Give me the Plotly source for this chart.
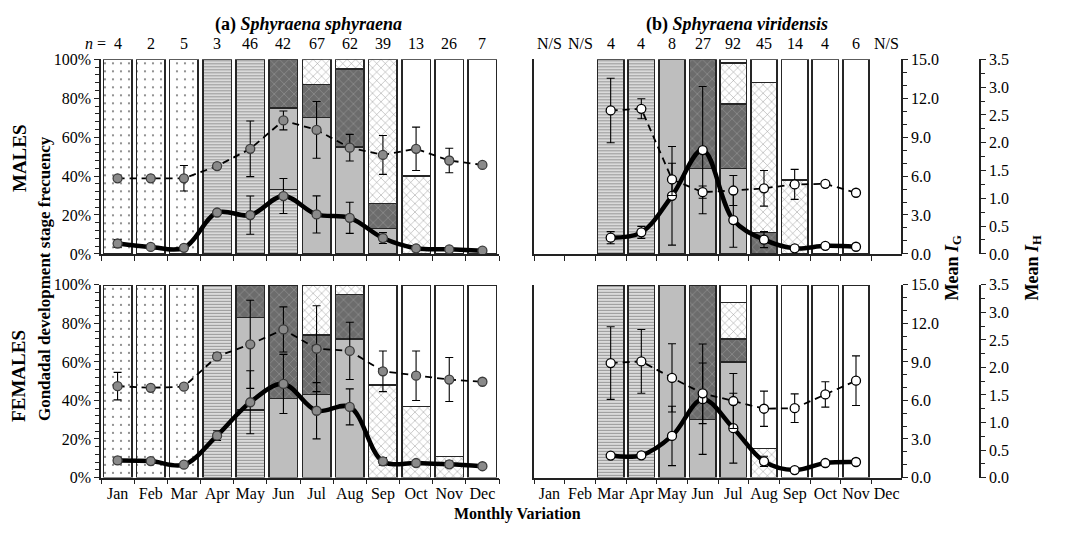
import plotly.graph_objects as go

W, H = 1067, 533
FONT = "Liberation Serif"

months = ["Jan", "Feb", "Mar", "Apr", "May", "Jun", "Jul", "Aug", "Sep", "Oct", "Nov", "Dec"]
n_ss = ["4", "2", "5", "3", "46", "42", "67", "62", "39", "13", "26", "7"]
n_sv = ["N/S", "N/S", "4", "4", "8", "27", "92", "45", "14", "4", "6", "N/S"]

stages = ["Immature", "Developing", "Spawning capable", "Actively spawning", "Regressing", "Regenerating"]

# Gonadal stage frequencies (%), Sphyraena sphyraena
ss_m_immature = [100, 100, 100, 0, 0, 0, 0, 0, 0, 0, 0, 0]
ss_m_developing = [0, 0, 0, 100, 100, 33, 0, 0, 0, 0, 0, 0]
ss_m_capable = [0, 0, 0, 0, 0, 42, 70, 55, 13, 0, 0, 0]
ss_m_active = [0, 0, 0, 0, 0, 25, 17, 40, 13, 0, 0, 0]
ss_m_regressing = [0, 0, 0, 0, 0, 0, 13, 5, 74, 40, 0, 0]
ss_m_regenerating = [0, 0, 0, 0, 0, 0, 0, 0, 0, 60, 100, 100]

ss_f_immature = [100, 100, 100, 0, 0, 0, 0, 0, 0, 0, 0, 0]
ss_f_developing = [0, 0, 0, 100, 35, 0, 0, 0, 0, 0, 0, 0]
ss_f_capable = [0, 0, 0, 0, 48, 41, 43, 72, 0, 0, 0, 0]
ss_f_active = [0, 0, 0, 0, 17, 59, 31, 23, 0, 0, 0, 0]
ss_f_regressing = [0, 0, 0, 0, 0, 0, 26, 5, 48, 37, 11, 0]
ss_f_regenerating = [0, 0, 0, 0, 0, 0, 0, 0, 52, 63, 89, 100]

# Gonadal stage frequencies (%), Sphyraena viridensis
sv_m_immature = [0] * 12
sv_m_developing = [0, 0, 100, 100, 0, 0, 0, 0, 0, 0, 0, 0]
sv_m_capable = [0, 0, 0, 0, 100, 44, 44, 0, 0, 0, 0, 0]
sv_m_active = [0, 0, 0, 0, 0, 56, 33, 11, 0, 0, 0, 0]
sv_m_regressing = [0, 0, 0, 0, 0, 0, 21, 77, 38, 0, 0, 0]
sv_m_regenerating = [0, 0, 0, 0, 0, 0, 2, 12, 62, 100, 100, 0]

sv_f_immature = [0] * 12
sv_f_developing = [0, 0, 100, 100, 0, 0, 0, 0, 0, 0, 0, 0]
sv_f_capable = [0, 0, 0, 0, 100, 30, 60, 0, 0, 0, 0, 0]
sv_f_active = [0, 0, 0, 0, 0, 70, 12, 0, 0, 0, 0, 0]
sv_f_regressing = [0, 0, 0, 0, 0, 0, 19, 15, 0, 0, 0, 0]
sv_f_regenerating = [0, 0, 0, 0, 0, 0, 9, 85, 100, 100, 100, 0]

# Mean gonadosomatic (IG) and hepatosomatic (IH) indices with error
ss_m_ig = [0.80, 0.54, 0.47, 3.19, 2.99, 4.46, 3.04, 2.78, 1.22, 0.43, 0.35, 0.25]
ss_m_ig_err = [0.30, 0, 0, 0, 1.47, 1.35, 1.43, 1.20, 0.42, 0.10, 0.10, 0]
ss_m_ih = [1.36, 1.36, 1.36, 1.58, 1.89, 2.40, 2.23, 1.91, 1.78, 1.89, 1.68, 1.60]
ss_m_ih_err = [0, 0, 0.23, 0, 0.50, 0.17, 0.51, 0.24, 0.35, 0.39, 0.22, 0]

ss_f_ig = [1.33, 1.28, 1.00, 3.26, 5.86, 7.29, 5.20, 5.50, 1.26, 1.13, 1.03, 0.88]
ss_f_ig_err = [0.25, 0, 0, 0.38, 2.45, 2.30, 2.19, 1.40, 0.30, 0.10, 0.25, 0]
ss_f_ih = [1.66, 1.63, 1.65, 2.20, 2.42, 2.69, 2.34, 2.30, 1.93, 1.85, 1.78, 1.74]
ss_f_ih_err = [0.25, 0, 0, 0.06, 0.80, 0.41, 0.78, 0.52, 0.37, 0.45, 0.40, 0]

sv_m_ig = [None, None, 1.25, 1.66, 4.48, 8.00, 2.61, 1.10, 0.43, 0.62, 0.55, None]
sv_m_ig_err = [0, 0, 0.47, 0.46, 3.80, 4.90, 2.10, 0.62, 0, 0, 0, 0]
sv_m_ih = [None, None, 2.58, 2.61, 1.34, 1.11, 1.14, 1.18, 1.25, 1.26, 1.10, None]
sv_m_ih_err = [0, 0, 0.58, 0.18, 0.29, 0.11, 0.27, 0.32, 0.27, 0, 0, 0]

sv_f_ig = [None, None, 1.71, 1.73, 3.24, 6.10, 3.84, 1.26, 0.58, 1.13, 1.21, None]
sv_f_ig_err = [0, 0, 0, 0.20, 2.31, 4.30, 2.72, 0.40, 0, 0, 0.20, 0]
sv_f_ih = [None, None, 2.08, 2.11, 1.81, 1.53, 1.39, 1.25, 1.26, 1.51, 1.76, None]
sv_f_ih_err = [0, 0, 0.66, 0.58, 0.62, 0.55, 0.50, 0.32, 0.26, 0.23, 0.45, 0]

stage_style = {
    "Immature": dict(color="white", pattern=dict(shape=".", fgcolor="#7a7a7a", bgcolor="white", size=8, solidity=0.06)),
    "Developing": dict(color="#e4e4e4", pattern=dict(shape="-", fgcolor="#999999", bgcolor="#f0f0f0", size=3, solidity=0.5)),
    "Spawning capable": dict(color="#bebebe"),
    "Actively spawning": dict(color="#6c6c6c", pattern=dict(shape="x", fgcolor="#a8a8a8", bgcolor="#6c6c6c", size=7, solidity=0.12)),
    "Regressing": dict(color="white", pattern=dict(shape="x", fgcolor="#8e8e8e", bgcolor="white", size=6, solidity=0.15)),
    "Regenerating": dict(color="white"),
}


def px(x):
    return x / W


def py(y):
    return 1 - y / H


def nz(vals):
    return [v if v else None for v in vals]


X_LEFT = [px(101), px(499)]
X_RIGHT = [px(534), px(902)]
Y_TOP = [py(254), py(53)]
Y_BOT = [py(485), py(286)]

panels = [
    dict(xa="x", ya="y", yg="y2", yh="y3", xdom=X_LEFT, ydom=Y_TOP, left=True, bottom=False,
         stacks=[ss_m_immature, ss_m_developing, ss_m_capable, ss_m_active, ss_m_regressing, ss_m_regenerating],
         ig=ss_m_ig, ig_err=ss_m_ig_err, ih=ss_m_ih, ih_err=ss_m_ih_err),
    dict(xa="x2", ya="y4", yg="y5", yh="y6", xdom=X_RIGHT, ydom=Y_TOP, left=False, bottom=False,
         stacks=[sv_m_immature, sv_m_developing, sv_m_capable, sv_m_active, sv_m_regressing, sv_m_regenerating],
         ig=sv_m_ig, ig_err=sv_m_ig_err, ih=sv_m_ih, ih_err=sv_m_ih_err),
    dict(xa="x3", ya="y7", yg="y8", yh="y9", xdom=X_LEFT, ydom=Y_BOT, left=True, bottom=True,
         stacks=[ss_f_immature, ss_f_developing, ss_f_capable, ss_f_active, ss_f_regressing, ss_f_regenerating],
         ig=ss_f_ig, ig_err=ss_f_ig_err, ih=ss_f_ih, ih_err=ss_f_ih_err),
    dict(xa="x4", ya="y10", yg="y11", yh="y12", xdom=X_RIGHT, ydom=Y_BOT, left=False, bottom=True,
         stacks=[sv_f_immature, sv_f_developing, sv_f_capable, sv_f_active, sv_f_regressing, sv_f_regenerating],
         ig=sv_f_ig, ig_err=sv_f_ig_err, ih=sv_f_ih, ih_err=sv_f_ih_err),
]

fig = go.Figure()
tickfont = dict(family=FONT, size=16, color="black")


def key(axid):
    return axid[0] + "axis" + axid[1:]


for p in panels:
    # stacked stage bars
    for name, vals in zip(stages, p["stacks"]):
        st = stage_style[name]
        marker = dict(color=st["color"], line=dict(color="#262626", width=1.4))
        if "pattern" in st:
            marker["pattern"] = dict(fillmode="replace", **st["pattern"])
        fig.add_trace(go.Bar(x=months, y=nz(vals), name=name, width=0.86, marker=marker,
                             xaxis=p["xa"], yaxis=p["ya"], showlegend=False, hoverinfo="skip"))

    mk_fill = "#8a8a8a" if p["left"] else "white"
    mk_line = "#3c3c3c" if p["left"] else "black"
    # mean IG: thick smoothed line
    fig.add_trace(go.Scatter(
        x=months, y=p["ig"], xaxis=p["xa"], yaxis=p["yg"], mode="lines+markers", showlegend=False,
        line=dict(color="black", width=4.5, shape="spline", smoothing=1.0),
        marker=dict(size=9, color=mk_fill, line=dict(color=mk_line, width=1.3)),
        error_y=dict(type="data", array=nz(p["ig_err"]), color="black", thickness=1.1, width=4),
    ))
    # mean IH: dashed line
    fig.add_trace(go.Scatter(
        x=months, y=p["ih"], xaxis=p["xa"], yaxis=p["yh"], mode="lines+markers", showlegend=False,
        line=dict(color="black", width=1.8, dash="7px,5px"),
        marker=dict(size=9, color=mk_fill, line=dict(color=mk_line, width=1.3)),
        error_y=dict(type="data", array=nz(p["ih_err"]), color="black", thickness=1.1, width=4),
    ))

    fig.layout[key(p["xa"])] = dict(
        domain=p["xdom"], anchor=p["ya"], type="category", categoryorder="array", categoryarray=months,
        range=[-0.5, 11.5], tickson="boundaries", ticks="outside", ticklen=5, tickcolor="#222",
        showline=True, linecolor="#222", linewidth=1.5, showgrid=False, zeroline=False,
        showticklabels=p["bottom"], tickfont=tickfont, tickangle=0, ticklabelstandoff=1,
    )
    fig.layout[key(p["ya"])] = dict(
        domain=p["ydom"], anchor=p["xa"], range=[0, 100], showgrid=False, zeroline=False,
        showline=True, linecolor="#222", linewidth=1.5,
        ticks="outside" if p["left"] else "", ticklen=5, tickcolor="#222",
        dtick=20, ticksuffix="%", showticklabels=p["left"], tickfont=tickfont,
        minor=dict(dtick=4, ticks="outside" if p["left"] else "", ticklen=4, tickcolor="#222"),
    )
    if p["left"]:
        fig.layout[key(p["yg"])] = dict(overlaying=p["ya"], anchor=p["xa"], range=[0, 15], visible=False)
        fig.layout[key(p["yh"])] = dict(overlaying=p["ya"], anchor=p["xa"], range=[0, 3.5], visible=False)
    else:
        fig.layout[key(p["yg"])] = dict(
            overlaying=p["ya"], anchor="free", position=px(902), side="right", range=[0, 15],
            dtick=3, tickformat=".1f", ticks="outside", ticklen=5, tickcolor="#222",
            showline=True, linecolor="#222", linewidth=1.5, showgrid=False, zeroline=False,
            tickfont=tickfont, minor=dict(dtick=1, ticks="outside", ticklen=4, tickcolor="#222"),
        )
        fig.layout[key(p["yh"])] = dict(
            overlaying=p["ya"], anchor="free", position=px(980), side="right", range=[0, 3.5],
            dtick=0.5, tickformat=".1f", ticks="outside", ticklen=5, tickcolor="#222",
            showline=True, linecolor="#222", linewidth=1.5, showgrid=False, zeroline=False,
            tickfont=tickfont, minor=dict(dtick=0.25, ticks="outside", ticklen=4, tickcolor="#222"),
        )

ann = []


def text(x, y, t, size=16, angle=0, xanchor="center", xref="paper"):
    ann.append(dict(x=x, y=y, xref=xref, yref="paper", text=t, showarrow=False, textangle=angle,
                    xanchor=xanchor, yanchor="middle", font=dict(family=FONT, size=size, color="black")))


text(px(308), py(17), "<b>(a) <i>Sphyraena sphyraena</i></b>", size=18)
text(px(737), py(17), "<b>(b) <i>Sphyraena viridensis</i></b>", size=18)
for m, n in zip(months, n_ss):
    text(m, py(37), n, xref="x")
for m, n in zip(months, n_sv):
    text(m, py(37), n, xref="x2")
text(px(108), py(37), "<i>n</i> =", xanchor="right")

text(px(44), py(280), "<b>Gondadal development stage frecuency</b>", size=17, angle=-90)
text(px(19), py(155), "<b>MALES</b>", size=19, angle=-90)
text(px(19), py(380), "<b>FEMALES</b>", size=19, angle=-90)
text(px(953), py(268), "<b>Mean <i>I</i><sub>G</sub></b>", size=18, angle=-90)
text(px(1033), py(268), "<b>Mean <i>I</i><sub>H</sub></b>", size=18, angle=-90)
ann.append(dict(x=px(517), y=0, xref="paper", yref="paper", text="<b>Monthly Variation</b>",
                showarrow=False, xanchor="center", yanchor="bottom", borderpad=0,
                font=dict(family=FONT, size=16, color="black")))

fig.update_layout(
    width=W, height=H, margin=dict(l=0, r=0, t=0, b=0),
    paper_bgcolor="white", plot_bgcolor="rgba(0,0,0,0)",
    barmode="stack", bargap=0.14, annotations=ann,
    font=dict(family=FONT, size=16, color="black"),
)

fig.write_html("out.html")
